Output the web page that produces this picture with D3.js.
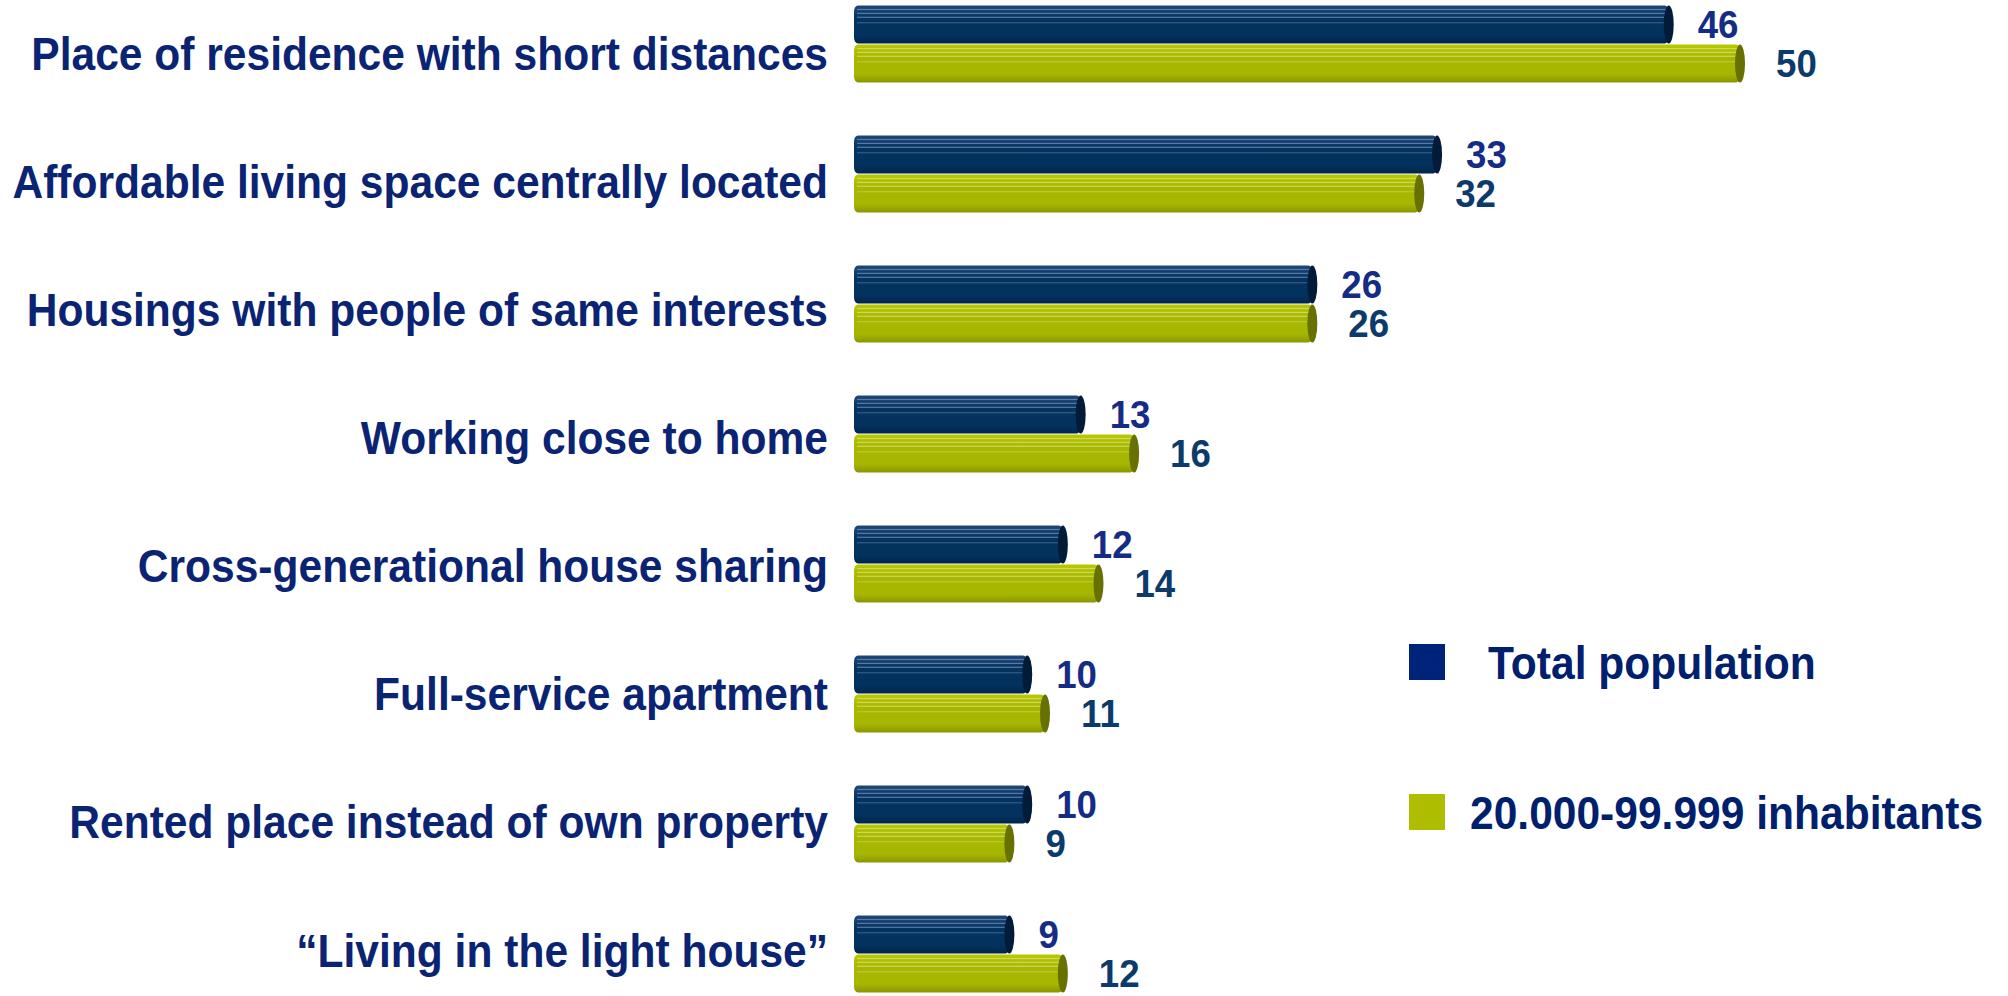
<!DOCTYPE html>
<html>
<head>
<meta charset="utf-8">
<script src="https://cdn.jsdelivr.net/npm/d3@7/dist/d3.min.js"></script>
<style>
  html, body { margin: 0; padding: 0; background: #ffffff; }
  svg { display: block; }
  text { font-family: "Liberation Sans", Arial, sans-serif; font-weight: bold; }
</style>
</head>
<body>
<svg id="chart" width="2008" height="996"></svg>
<script>
// ---- data ----
const categories = [
  "Place of residence with short distances",
  "Affordable living space centrally located",
  "Housings with people of same interests",
  "Working close to home",
  "Cross-generational house sharing",
  "Full-service apartment",
  "Rented place instead of own property",
  "\u201cLiving in the light house\u201d"
];
const seriesNames = ["Total population", "20.000-99.999 inhabitants"];
const totalPopulation = [46, 33, 26, 13, 12, 10, 10, 9];
const inhabitants20to100k = [50, 32, 26, 16, 14, 11, 9, 12];

// ---- layout ----
const svg = d3.select("#chart");
const SX = 0.925; // horizontal condensation of the text

const x = d3.scaleLinear().domain([0, 50]).range([854, 1745]);
const y = d3.scaleBand().domain(categories).range([-21, 1019]).paddingInner(0.4).paddingOuter(0.2);
const ySeries = d3.scaleBand().domain(seriesNames).range([0, y.bandwidth()]).padding(0);
const yLabel = d3.scalePoint().domain(categories).range([53, 950]);

const colors = {
  "Total population": { top: "#1f4778", mid: "#04325f", bot: "#01254b", cap: "#011b38", line: "#7090b8", legend: "#00237a", label: "#152c86" },
  "20.000-99.999 inhabitants": { top: "#b8c800", mid: "#a7b600", bot: "#889600", cap: "#677100", line: "#d8e278", legend: "#aebd00", label: "#0c3a6b" }
};

const defs = svg.append("defs");
seriesNames.forEach((s, i) => {
  const c = colors[s];
  const g = defs.append("linearGradient").attr("id", "grad" + i)
    .attr("x1", 0).attr("y1", 0).attr("x2", 0).attr("y2", 1);
  g.append("stop").attr("offset", "0%").attr("stop-color", c.top);
  g.append("stop").attr("offset", "35%").attr("stop-color", c.mid);
  g.append("stop").attr("offset", "78%").attr("stop-color", c.mid);
  g.append("stop").attr("offset", "100%").attr("stop-color", c.bot);
});

const rows = categories.map((cat, i) => ({
  cat,
  values: [
    { series: seriesNames[0], idx: 0, value: totalPopulation[i] },
    { series: seriesNames[1], idx: 1, value: inhabitants20to100k[i] }
  ]
}));

// category labels
svg.append("g").selectAll("text").data(categories).join("text")
  .attr("transform", d => `translate(828,${yLabel(d) + 16.5}) scale(${SX},1)`)
  .attr("text-anchor", "end")
  .attr("font-size", 46)
  .attr("fill", "#0a2473")
  .text(d => d);

// bars
const capRx = 5;
const rowG = svg.append("g").selectAll("g").data(rows).join("g")
  .attr("transform", d => `translate(0,${y(d.cat)})`);

const barG = rowG.selectAll("g.bar").data(d => d.values.slice().reverse()).join("g").attr("class", "bar");

barG.each(function(d) {
  const g = d3.select(this);
  const c = colors[d.series];
  const y0 = ySeries(d.series);
  const h = ySeries.bandwidth();
  const x0 = x(0);
  const xe = x(d.value) - capRx;
  g.append("rect")
    .attr("x", x0).attr("y", y0 + 0.5)
    .attr("width", xe - x0).attr("height", h - 1)
    .attr("rx", 4).attr("ry", 6)
    .attr("fill", `url(#grad${d.idx})`);
  [0.1, 0.2, 0.3, 0.44].forEach((f, k) => {
    g.append("rect")
      .attr("x", x0 + 3).attr("y", y0 + h * f)
      .attr("width", Math.max(0, xe - x0 - 3)).attr("height", 1.2)
      .attr("fill", c.line)
      .attr("opacity", k === 3 ? 0.45 : 0.75);
  });
  g.append("ellipse")
    .attr("cx", xe).attr("cy", y0 + h / 2)
    .attr("rx", capRx).attr("ry", h / 2 - 0.5)
    .attr("fill", c.cap);
});

// value labels
rowG.selectAll("text.val").data(d => d.values).join("text").attr("class", "val")
  .attr("transform", d => `translate(${x(d.value) + (d.idx === 0 ? 24 : 31)},${ySeries(d.series) + ySeries.bandwidth() / 2 + 13.5}) scale(0.94,1)`)
  .attr("font-size", 39)
  .attr("fill", d => colors[d.series].label)
  .text(d => d.value);

// legend
const legendY = d3.scalePoint().domain(seriesNames).range([662, 812]);
const leg = svg.append("g").selectAll("g").data(seriesNames).join("g")
  .attr("transform", d => `translate(1409,${legendY(d)})`);
leg.append("rect")
  .attr("x", 0).attr("y", -18).attr("width", 36).attr("height", 36)
  .attr("fill", d => colors[d].legend);
leg.append("text")
  .attr("transform", (d, i) => `translate(${i === 0 ? 79 : 61},17) scale(${SX},1)`)
  .attr("font-size", 46)
  .attr("fill", "#00206e")
  .text(d => d);
</script>
</body>
</html>
